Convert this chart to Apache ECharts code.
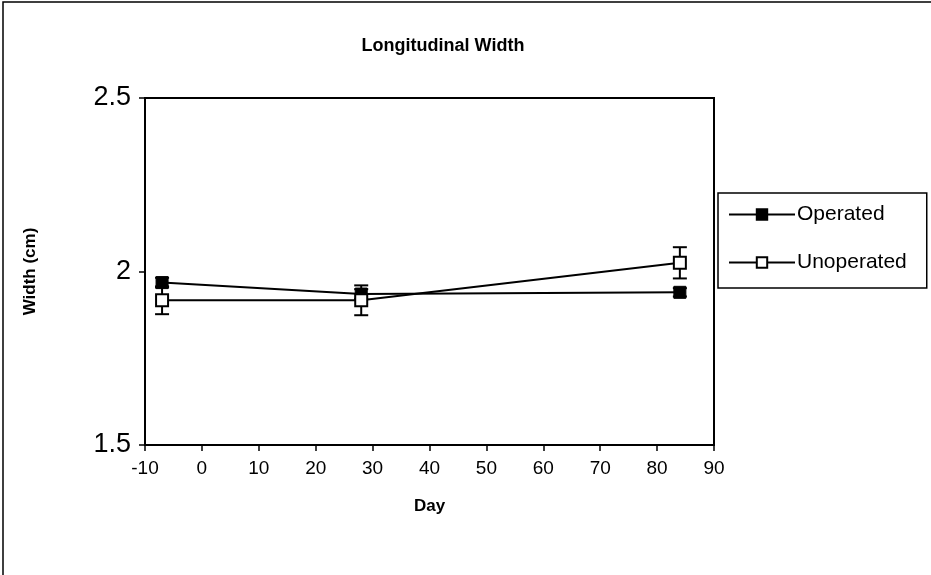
<!DOCTYPE html>
<html>
<head>
<meta charset="utf-8">
<script src="https://cdn.jsdelivr.net/npm/echarts@6/dist/echarts.min.js"></script>
<style>
html, body { margin: 0; padding: 0; background: #fff; }
#chart { width: 931px; height: 575px; }
</style>
</head>
<body>
<div id="chart"></div>
<script>
var days = [-7, 28, 84];
var operated = [1.968, 1.935, 1.940];
var operatedErr = [0.014, 0.014, 0.012];
var unoperated = [1.917, 1.917, 2.025];
var unoperatedErr = [0.04, 0.043, 0.045];
var xTicks = [-10, 90, 10];
var yTicks = [1.5, 2.5, 0.5];

var FONT = "Liberation Sans, Arial, sans-serif";

function pairs(xs, ys) {
	var out = [];
	for (var i = 0; i < xs.length; i++) out.push([xs[i], ys[i]]);
	return out;
}
function bars(xs, ys, es) {
	var out = [];
	for (var i = 0; i < xs.length; i++) out.push([xs[i], ys[i] - es[i], ys[i] + es[i]]);
	return out;
}
function errorItem(params, api) {
	var lo = api.coord([api.value(0), api.value(1)]);
	var hi = api.coord([api.value(0), api.value(2)]);
	var w = 7;
	var st = { stroke: '#000', lineWidth: 2 };
	return {
		type: 'group',
		children: [
			{ type: 'line', shape: { x1: lo[0], y1: lo[1], x2: hi[0], y2: hi[1] }, style: st },
			{ type: 'line', shape: { x1: lo[0] - w, y1: lo[1], x2: lo[0] + w, y2: lo[1] }, style: st },
			{ type: 'line', shape: { x1: hi[0] - w, y1: hi[1], x2: hi[0] + w, y2: hi[1] }, style: st }
		]
	};
}

var myChart = echarts.init(document.getElementById("chart"));
var option = {
	animation: false,
	backgroundColor: '#fff',
	title: {
		text: 'Longitudinal Width',
		left: 438, top: 32, textAlign: 'center',
		textStyle: { fontFamily: FONT, fontSize: 18, fontWeight: 'bold', color: '#000' }
	},
	graphic: [{
		type: 'polyline',
		shape: { points: [[3, 575], [3, 2], [931, 2]] },
		style: { stroke: '#000', lineWidth: 1.5, fill: null }
	}],
	legend: {
		orient: 'vertical',
		left: 718, top: 193,
		padding: [11, 20, 15, 10],
		itemGap: 27,
		itemWidth: 66, itemHeight: 13,
		borderColor: '#000', borderWidth: 1.5, borderRadius: 0,
		textStyle: { fontFamily: FONT, fontSize: 21, color: '#000', padding: [0, 0, 0, -3] },
		data: ['Operated', 'Unoperated']
	},
	grid: {
		left: 145, top: 98, width: 569, height: 347,
		show: true, borderColor: '#000', borderWidth: 2, backgroundColor: '#fff'
	},
	xAxis: {
		type: 'value', min: xTicks[0], max: xTicks[1], interval: xTicks[2],
		name: 'Day', nameLocation: 'middle', nameGap: 53,
		nameTextStyle: { fontFamily: FONT, fontSize: 17, fontWeight: 'bold', color: '#000' },
		axisLine: { onZero: false, lineStyle: { color: '#000', width: 2 } },
		axisTick: { length: 6, lineStyle: { color: '#000', width: 1.5 } },
		axisLabel: { fontFamily: FONT, fontSize: 19, color: '#000', margin: 14 },
		splitLine: { show: false }
	},
	yAxis: {
		type: 'value', min: yTicks[0], max: yTicks[1], interval: yTicks[2],
		name: 'Width (cm)', nameLocation: 'middle', nameGap: 106, nameRotate: 90,
		nameTextStyle: { fontFamily: FONT, fontSize: 17, fontWeight: 'bold', color: '#000' },
		axisLine: { onZero: false, lineStyle: { color: '#000', width: 2 } },
		axisTick: { length: 6, lineStyle: { color: '#000', width: 1.5 } },
		axisLabel: { fontFamily: FONT, fontSize: 27, color: '#000', margin: 14,
			formatter: function (v) { return v === 2 ? '2' : v.toFixed(1); } },
		splitLine: { show: false }
	},
	series: [
		{
			type: 'custom', renderItem: errorItem, data: bars(days, operated, operatedErr), z: 2,
			silent: true
		},
		{
			type: 'custom', renderItem: errorItem, data: bars(days, unoperated, unoperatedErr), z: 2,
			silent: true
		},
		{
			name: 'Operated', type: 'line', data: pairs(days, operated), z: 3,
			symbol: 'rect', symbolSize: 12,
			lineStyle: { color: '#000', width: 2 },
			itemStyle: { color: '#000', borderColor: '#000', borderWidth: 1 }
		},
		{
			name: 'Unoperated', type: 'line', data: pairs(days, unoperated), z: 3,
			symbol: 'rect', symbolSize: 12,
			lineStyle: { color: '#000', width: 2 },
			itemStyle: { color: '#fff', borderColor: '#000', borderWidth: 2 }
		}
	]
};
myChart.setOption(option);
</script>
</body>
</html>
